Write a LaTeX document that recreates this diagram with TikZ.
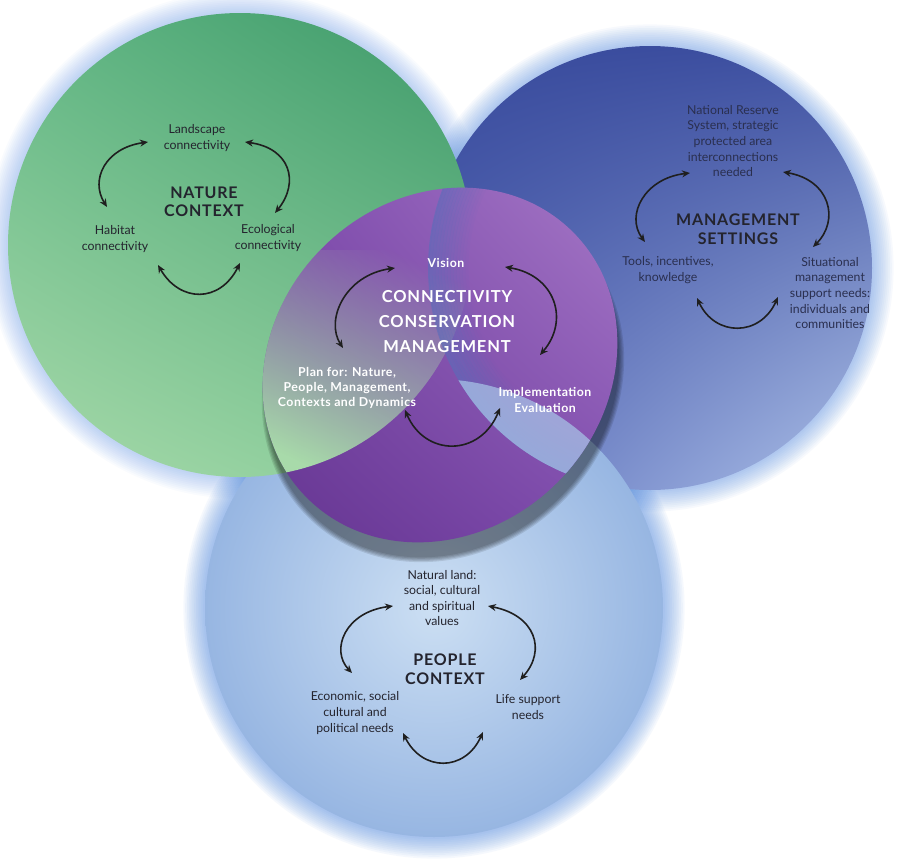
\documentclass[tikz,border=0pt]{standalone}
\usepackage{fontspec}
\setmainfont{Lato}
\newfontfamily\titlefont[LetterSpace=5]{Lato}
\newfontfamily\wfont[LetterSpace=4]{Lato}
\usetikzlibrary{arrows.meta,fadings,shadings}
\definecolor{grnDark}{HTML}{3C9868}
\definecolor{grnMid}{HTML}{6CBF8C}
\definecolor{grnLight}{HTML}{A8DAAA}
\definecolor{mgDark}{HTML}{384A9C}
\definecolor{mgMid}{HTML}{5A6DBA}
\definecolor{mgLight}{HTML}{B0C4EA}
\definecolor{ppLight}{HTML}{CCDFF3}
\definecolor{ppEdge}{HTML}{97B6E2}
\definecolor{purDark}{HTML}{5A2C84}
\definecolor{purMid}{HTML}{7E4AAE}
\definecolor{purLight}{HTML}{A97CC8}
\definecolor{glow}{HTML}{4A86E0}
\definecolor{txt}{HTML}{24242E}
\tikzfading[name=washfade, top color=transparent!100, bottom color=transparent!0]
\begin{document}
\begin{tikzpicture}[x=1pt,y=-1pt,
  lbl/.style={align=center, font=\fontsize{12.3}{15.6}\selectfont, text=txt, inner sep=0pt},
  ttl/.style={align=center, font=\titlefont\fontsize{16}{18.5}\selectfont\bfseries, text=txt, inner sep=0pt},
  wlbl/.style={align=center, font=\wfont\fontsize{12.3}{15.2}\selectfont\bfseries, text=white, inner sep=0pt},
  wttl/.style={align=center, font=\titlefont\fontsize{16.5}{25}\selectfont\bfseries, text=white, inner sep=0pt},
  arr/.style={draw=black!88, line width=1.6pt, {Stealth[length=8pt,width=7pt]}-{Stealth[length=8pt,width=7pt]}}
]
\useasboundingbox (0,0) rectangle (903,860);
\fill[white] (0,0) rectangle (903,860);

% glows
\foreach \k in {1,...,12} {
  \fill[glow, opacity=0.045] (650,268) circle[radius=222+1.8*\k];
  \fill[glow, opacity=0.05] (434,608) circle[radius=229+1.8*\k];
  \fill[glow, opacity=0.03] (240,245) circle[radius=232+1.8*\k];
}

% management circle
\shade[upper left=mgDark, upper right=mgDark!85!mgMid, lower left=mgMid, lower right=mgLight] (650,268) circle[radius=222];
% people circle
\shade[inner color=ppLight, outer color=ppEdge] (434,608) circle[radius=229];
% green circle
\shade[upper left=grnMid!80!grnDark, upper right=grnDark, lower left=grnLight, lower right=grnMid!60!grnLight] (240,245) circle[radius=232];

% purple shadow
\foreach \k in {0,...,4} {
  \fill[black, opacity=0.1] (443,381) circle[x radius=187+1.2*\k, y radius=165+1.2*\k, rotate=45];
}
% purple disc
\shade[upper left=purMid, upper right=purLight, lower left=purDark!80!purMid, lower right=purMid] (440,365) circle[x radius=188, y radius=166, rotate=45];

% green wash inside purple
\begin{scope}
  \clip (440,365) circle[x radius=188, y radius=166, rotate=45];
  \clip (240,245) circle[radius=232];
  \fill[grnLight, path fading=washfade, fading angle=-25] (250,250) rectangle (480,480);
\end{scope}
% management edge band inside purple
\begin{scope}
  \clip (440,365) circle[x radius=188, y radius=166, rotate=45];
  \clip (650,268) circle[radius=222];
  \foreach \k in {0,...,13} {
    \pgfmathsetmacro\op{0.6*(1-\k/14)}
    \draw[mgMid, line width=3.2pt, opacity=\op] (650,268) circle[radius=222-3*\k];
  }
\end{scope}
% people/management light band inside purple
\begin{scope}
  \clip (440,365) circle[x radius=188, y radius=166, rotate=45];
  \clip (434,608) circle[radius=229];
  \clip (650,268) circle[radius=222];
  \fill[ppEdge!85!white, opacity=0.75] (380,350) rectangle (700,560);
\end{scope}

% ---------- NATURE CONTEXT ----------
\node[lbl] (landscape) at (197,138) {Landscape\\connectivity};
\node[ttl] (nature) at (204,202) {NATURE\\CONTEXT};
\node[lbl] (habitat) at (115,239) {Habitat\\connectivity};
\node[lbl] (ecological) at (268,238) {Ecological\\connectivity};
\coordinate (n1) at (148,142); \coordinate (n2) at (107,207);
\coordinate (n3) at (245,142); \coordinate (n4) at (275,213);
\coordinate (n5) at (158,265); \coordinate (n6) at (240,263);
\draw[arr] (n1) .. controls (105,148) and (90,180) .. (n2);
\draw[arr] (n3) .. controls (290,148) and (300,182) .. (n4);
\draw[arr] (n5) .. controls (180,303) and (220,303) .. (n6);

% ---------- MANAGEMENT SETTINGS ----------
\node[lbl, text=txt!70!mgDark] (nrs) at (733,141) {National Reserve\\System, strategic\\protected area\\interconnections\\needed};
\node[ttl] (mgmt) at (738,229) {MANAGEMENT\\SETTINGS};
\node[lbl, text=txt!70!mgDark] (tools) at (668,270) {Tools, incentives,\\knowledge};
\node[lbl, text=txt!70!mgDark] (situ) at (830,293) {Situational\\management\\support needs:\\individuals and\\communities};
\coordinate (m1) at (690,173); \coordinate (m2) at (645,242);
\coordinate (m3) at (783,172); \coordinate (m4) at (813,247);
\coordinate (m5) at (697,298); \coordinate (m6) at (778,297);
\draw[arr] (m1) .. controls (645,178) and (625,215) .. (m2);
\draw[arr] (m3) .. controls (830,180) and (840,220) .. (m4);
\draw[arr] (m5) .. controls (715,337) and (760,337) .. (m6);

% ---------- CENTRE ----------
\node[wlbl] (vision) at (446,263) {Vision};
\node[wttl] (ccm) at (447,322) {CONNECTIVITY\\CONSERVATION\\MANAGEMENT};
\node[wlbl] (plan) at (347,388) {Plan for: Nature,\\People, Management,\\Contexts and Dynamics};
\node[wlbl] (impl) at (545,400) {Implementation\\Evaluation};
\coordinate (c1) at (395,268); \coordinate (c2) at (343,348);
\coordinate (c3) at (505,267); \coordinate (c4) at (540,355);
\coordinate (c5) at (405,410); \coordinate (c6) at (500,408);
\draw[arr] (c1) .. controls (345,275) and (325,320) .. (c2);
\draw[arr] (c3) .. controls (555,275) and (570,320) .. (c4);
\draw[arr] (c5) .. controls (425,457) and (480,457) .. (c6);

% ---------- PEOPLE CONTEXT ----------
\node[lbl] (natland) at (442,598) {Natural land:\\social, cultural\\and spiritual\\values};
\node[ttl] (people) at (445,669) {PEOPLE\\CONTEXT};
\node[lbl] (econ) at (355,713) {Economic, social\\cultural and\\political needs};
\node[lbl] (life) at (528,707) {Life support\\needs};
\coordinate (p1) at (393,606); \coordinate (p2) at (352,673);
\coordinate (p3) at (488,606); \coordinate (p4) at (520,680);
\coordinate (p5) at (403,733); \coordinate (p6) at (483,732);
\draw[arr] (p1) .. controls (345,612) and (330,650) .. (p2);
\draw[arr] (p3) .. controls (535,615) and (547,650) .. (p4);
\draw[arr] (p5) .. controls (422,772) and (465,772) .. (p6);
\end{tikzpicture}
\end{document}
